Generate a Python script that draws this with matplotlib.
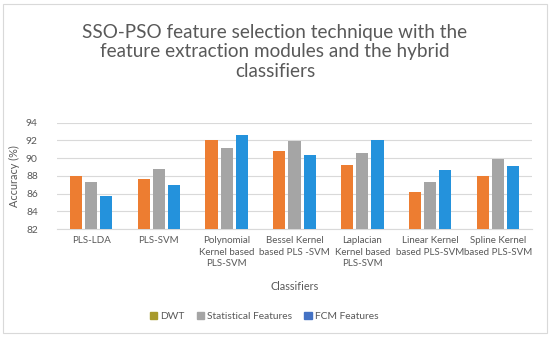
import numpy as np
import matplotlib.pyplot as plt
from matplotlib.patches import Patch, Rectangle

plt.rcParams['font.family'] = ['Lato', 'DejaVu Sans']

# 数据
classifiers = ['PLS-LDA', 'PLS-SVM', 'Polynomial\nKernel based\nPLS-SVM',
               'Bessel Kernel\nbased PLS -SVM', 'Laplacian\nKernel based\nPLS-SVM',
               'Linear Kernel\nbased PLS-SVM', 'Spline Kernel\nbased PLS-SVM']
dwt = [88.0, 87.6, 92.1, 90.85, 89.2, 86.2, 88.0]
stat_feat = [87.3, 88.75, 91.2, 91.95, 90.55, 87.3, 89.95]
fcm_feat = [85.75, 86.95, 92.65, 90.35, 92.05, 88.65, 89.15]
series_names = ['DWT', 'Statistical Features', 'FCM Features']

txt = '#595959'
fig = plt.figure(figsize=(5.5, 3.37), dpi=100)
ax = fig.add_axes([0.104, 0.32, 0.863, 0.316])

x = np.arange(len(classifiers))
w = 0.18
step = 0.225
ax.bar(x - step, dwt, w, color='#ED7D31', zorder=3)
ax.bar(x, stat_feat, w, color='#A5A5A5', zorder=3)
ax.bar(x + step, fcm_feat, w, color='#2492DC', zorder=3)

ax.set_ylim(82, 94)
ax.set_xlim(-0.5, len(classifiers) - 0.5)
ax.set_yticks(np.arange(82, 95, 2))
ax.set_xticks(x)
ax.set_xticklabels(classifiers, fontsize=7.0, color=txt, linespacing=1.35)
ax.tick_params(axis='y', labelsize=7.4, colors=txt, length=0, pad=14)
ax.tick_params(axis='x', length=0, pad=5)
ax.grid(axis='y', color='#D9D9D9', lw=0.8, zorder=0)
for s in ['top', 'right', 'left']:
    ax.spines[s].set_visible(False)
ax.spines['bottom'].set_color('#D9D9D9')
ax.set_ylabel('Accuracy (%)', fontsize=7.8, color=txt, labelpad=4)
ax.set_xlabel('Classifiers', fontsize=7.8, color=txt, labelpad=9)

fig.text(0.5, 0.93, 'SSO-PSO feature selection technique with the\nfeature extraction modules and the hybrid\nclassifiers',
         ha='center', va='top', fontsize=13.6, color=txt, linespacing=1.2)

handles = [Patch(color='#A89A2C'), Patch(color='#A5A5A5'), Patch(color='#4472C4')]
fig.legend(handles, series_names, loc='center', bbox_to_anchor=(0.48, 0.06), ncol=3,
           frameon=False, fontsize=7.4, labelcolor=txt, handlelength=0.7, handleheight=0.7,
           handletextpad=0.3, columnspacing=1.2)

fig.patches.append(Rectangle((0.006, 0.012), 0.988, 0.976, transform=fig.transFigure,
                             fill=False, edgecolor='#D9D9D9', lw=0.8))

plt.savefig('out.png')
